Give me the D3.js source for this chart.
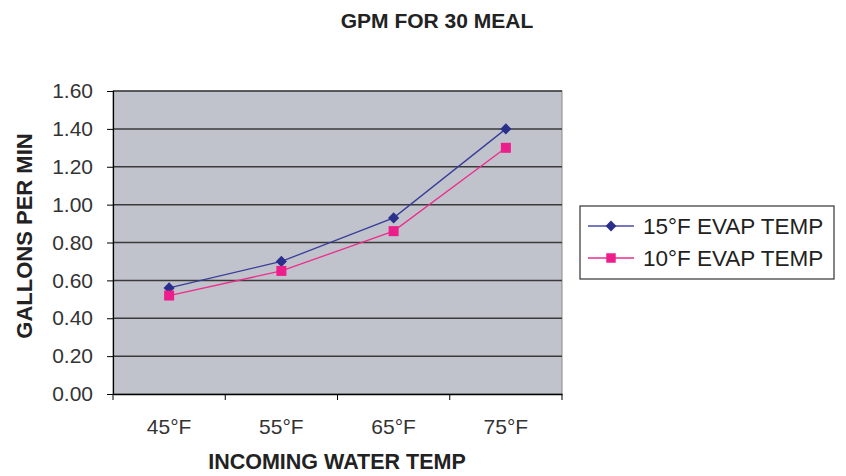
<!DOCTYPE html>
<html>
<head>
<meta charset="utf-8">
<script src="https://cdn.jsdelivr.net/npm/d3@7"></script>
<style>
body { margin: 0; background: #fff; }
text { font-family: "Liberation Sans", Arial, sans-serif; }
</style>
</head>
<body>
<div id="chart"></div>
<script>
var categories = ["45°F", "55°F", "65°F", "75°F"];
var evap15 = [0.56, 0.70, 0.93, 1.40];
var evap10 = [0.52, 0.65, 0.86, 1.30];
var seriesNames = ["15°F EVAP TEMP", "10°F EVAP TEMP"];
var yTicks = [0, 0.2, 0.4, 0.6, 0.8, 1.0, 1.2, 1.4, 1.6];

var w = 846, h = 476;
var plotLeft = 113, plotRight = 562, plotTop = 91, plotBottom = 394;

var svg = d3.select("#chart").append("svg")
    .attr("width", w)
    .attr("height", h);

var x = d3.scaleBand().domain(categories).range([plotLeft, plotRight]);
var y = d3.scaleLinear().domain([0, 1.6]).range([plotBottom, plotTop]);

// plot area
svg.append("rect")
    .attr("x", plotLeft).attr("y", plotTop)
    .attr("width", plotRight - plotLeft).attr("height", plotBottom - plotTop)
    .attr("fill", "#c0c3cb")
    .attr("stroke", "#8a8a8a");

// gridlines
svg.selectAll("line.grid")
    .data(yTicks.slice(1))
    .enter()
    .append("line")
    .attr("class", "grid")
    .attr("x1", plotLeft).attr("x2", plotRight)
    .attr("y1", function(d){ return y(d); })
    .attr("y2", function(d){ return y(d); })
    .attr("stroke", "#3a3a3a")
    .attr("stroke-width", 1.5);

// y axis
var yAxis = svg.append("g")
    .attr("transform", "translate(" + plotLeft + ",0)")
    .call(d3.axisLeft(y).tickValues(yTicks).tickFormat(d3.format(".2f")).tickSize(6).tickPadding(14));
yAxis.select(".domain").attr("stroke", "#000").attr("stroke-width", 1.2);
yAxis.selectAll(".tick line").attr("stroke", "#000");
yAxis.selectAll("text").style("font-size", "21px").attr("fill", "#333");

// x axis
var xAxis = svg.append("g")
    .attr("transform", "translate(0," + plotBottom + ")")
    .call(d3.axisBottom(x).tickSize(0).tickPadding(25));
xAxis.select(".domain").attr("stroke", "#000").attr("stroke-width", 1.5);
xAxis.selectAll("text").style("font-size", "21px").attr("fill", "#333");

// x tick marks between categories
var edges = categories.map(function(d){ return x(d); }).concat([plotRight]);
svg.selectAll("line.xtick")
    .data(edges)
    .enter()
    .append("line")
    .attr("class", "xtick")
    .attr("x1", function(d){ return d; })
    .attr("x2", function(d){ return d; })
    .attr("y1", plotBottom).attr("y2", plotBottom + 6)
    .attr("stroke", "#000");

var cx = function(d, i){ return x(categories[i]) + x.bandwidth() / 2; };
var line = d3.line()
    .x(function(d, i){ return cx(d, i); })
    .y(function(d){ return y(d); });

// 15F series
svg.append("path")
    .datum(evap15)
    .attr("d", line)
    .attr("fill", "none")
    .attr("stroke", "#3a3c9a")
    .attr("stroke-width", 1.3);
svg.selectAll("path.diamond")
    .data(evap15)
    .enter()
    .append("path")
    .attr("class", "diamond")
    .attr("d", d3.symbol().type(d3.symbolDiamond2).size(80))
    .attr("transform", function(d, i){ return "translate(" + cx(d, i) + "," + y(d) + ")"; })
    .attr("fill", "#2b2f8c");

// 10F series
svg.append("path")
    .datum(evap10)
    .attr("d", line)
    .attr("fill", "none")
    .attr("stroke", "#ec2d8e")
    .attr("stroke-width", 1.3);
svg.selectAll("rect.square")
    .data(evap10)
    .enter()
    .append("rect")
    .attr("class", "square")
    .attr("x", function(d, i){ return cx(d, i) - 5; })
    .attr("y", function(d){ return y(d) - 5; })
    .attr("width", 10).attr("height", 10)
    .attr("fill", "#ec1e8c");

// legend
var legend = svg.append("g");
legend.append("rect")
    .attr("x", 580).attr("y", 206)
    .attr("width", 254).attr("height", 73)
    .attr("fill", "#fff")
    .attr("stroke", "#333")
    .attr("stroke-width", 1.2);
var lg = legend.selectAll("g.item")
    .data(seriesNames)
    .enter()
    .append("g")
    .attr("class", "item")
    .attr("transform", function(d, i){ return "translate(0," + (226 + i * 32) + ")"; });
lg.append("line")
    .attr("x1", 588).attr("x2", 634)
    .attr("y1", 0).attr("y2", 0)
    .attr("stroke", function(d, i){ return i == 0 ? "#4a4ca8" : "#ec2d8e"; })
    .attr("stroke-width", 1.5);
lg.append("path")
    .attr("d", function(d, i){ return d3.symbol().type(i == 0 ? d3.symbolDiamond2 : d3.symbolSquare).size(i == 0 ? 75 : 90)(); })
    .attr("transform", "translate(611,0)")
    .attr("fill", function(d, i){ return i == 0 ? "#2b2f8c" : "#ec1e8c"; });
lg.append("text")
    .attr("x", 643).attr("y", 0)
    .attr("dy", "0.36em")
    .style("font-size", "22.5px")
    .attr("fill", "#222")
    .text(function(d){ return d; });

// titles
svg.append("text")
    .attr("x", 437).attr("y", 28)
    .attr("text-anchor", "middle")
    .style("font-size", "21px").style("font-weight", "bold")
    .attr("fill", "#222")
    .text("GPM FOR 30 MEAL");

svg.append("text")
    .attr("x", 337).attr("y", 469)
    .attr("text-anchor", "middle")
    .style("font-size", "21.5px").style("font-weight", "bold")
    .attr("fill", "#222")
    .text("INCOMING WATER TEMP");

svg.append("text")
    .attr("transform", "translate(32,236) rotate(-90)")
    .attr("text-anchor", "middle")
    .style("font-size", "22px").style("font-weight", "bold")
    .attr("fill", "#222")
    .text("GALLONS PER MIN");
</script>
</body>
</html>
